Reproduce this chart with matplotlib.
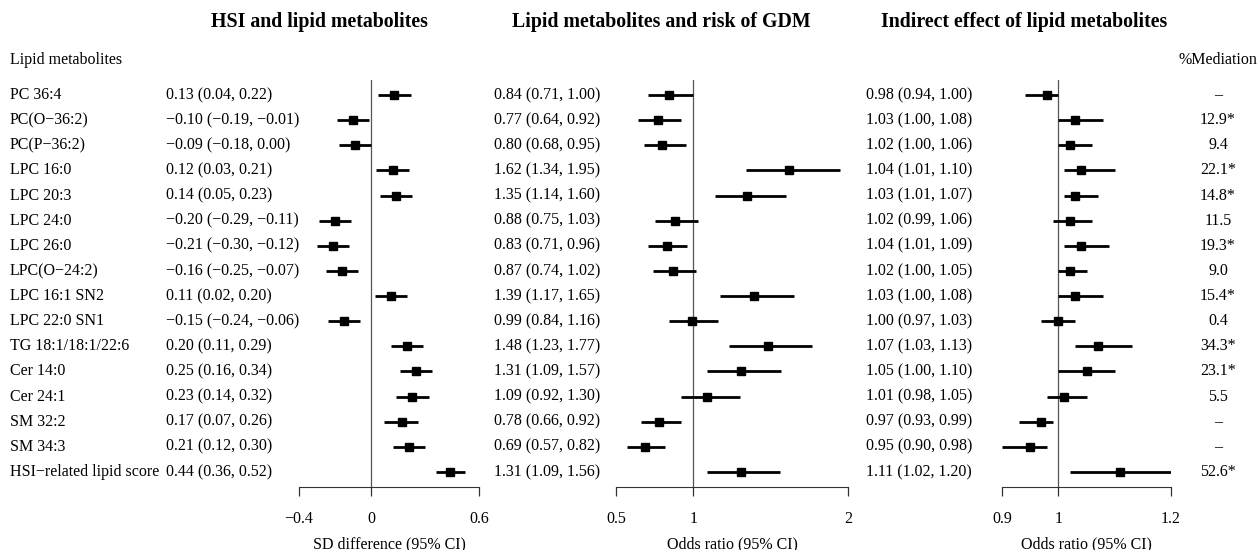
import matplotlib
matplotlib.use('Agg')
import matplotlib.pyplot as plt
import matplotlib.transforms as mtransforms

plt.rcParams['font.family'] = ['Liberation Serif', 'DejaVu Serif']

# Данные
labels = ['PC 36:4', 'PC(O−36:2)', 'PC(P−36:2)', 'LPC 16:0', 'LPC 20:3', 'LPC 24:0',
          'LPC 26:0', 'LPC(O−24:2)', 'LPC 16:1 SN2', 'LPC 22:0 SN1', 'TG 18:1/18:1/22:6',
          'Cer 14:0', 'Cer 24:1', 'SM 32:2', 'SM 34:3', 'HSI−related lipid score']

sd_est = [0.13, -0.10, -0.09, 0.12, 0.14, -0.20, -0.21, -0.16, 0.11, -0.15, 0.20, 0.25, 0.23, 0.17, 0.21, 0.44]
sd_lo = [0.04, -0.19, -0.18, 0.03, 0.05, -0.29, -0.30, -0.25, 0.02, -0.24, 0.11, 0.16, 0.14, 0.07, 0.12, 0.36]
sd_hi = [0.22, -0.01, 0.00, 0.21, 0.23, -0.11, -0.12, -0.07, 0.20, -0.06, 0.29, 0.34, 0.32, 0.26, 0.30, 0.52]

or_est = [0.84, 0.77, 0.80, 1.62, 1.35, 0.88, 0.83, 0.87, 1.39, 0.99, 1.48, 1.31, 1.09, 0.78, 0.69, 1.31]
or_lo = [0.71, 0.64, 0.68, 1.34, 1.14, 0.75, 0.71, 0.74, 1.17, 0.84, 1.23, 1.09, 0.92, 0.66, 0.57, 1.09]
or_hi = [1.00, 0.92, 0.95, 1.95, 1.60, 1.03, 0.96, 1.02, 1.65, 1.16, 1.77, 1.57, 1.30, 0.92, 0.82, 1.56]

ie_est = [0.98, 1.03, 1.02, 1.04, 1.03, 1.02, 1.04, 1.02, 1.03, 1.00, 1.07, 1.05, 1.01, 0.97, 0.95, 1.11]
ie_lo = [0.94, 1.00, 1.00, 1.01, 1.01, 0.99, 1.01, 1.00, 1.00, 0.97, 1.03, 1.00, 0.98, 0.93, 0.90, 1.02]
ie_hi = [1.00, 1.08, 1.06, 1.10, 1.07, 1.06, 1.09, 1.05, 1.08, 1.03, 1.13, 1.10, 1.05, 0.99, 0.98, 1.20]

mediation = ['–', '12.9*', '9.4', '22.1*', '14.8*', '11.5', '19.3*', '9.0', '15.4*', '0.4',
             '34.3*', '23.1*', '5.5', '–', '–', '52.6*']

W, H = 1257, 550
fig = plt.figure(figsize=(W / 100, H / 100), dpi=100)


def fmt(v):
    s = f'{v:.2f}'
    return s.replace('-', '−')


def make_axes(x0, x1):
    # позиция осей в пикселях
    top, bottom = 80, 487
    return fig.add_axes([x0 / W, 1 - bottom / H, (x1 - x0) / W, (bottom - top) / H])


panels = [
    (299, 479, (-0.4, 0.6), [-0.4, 0, 0.6], ['−0.4', '0', '0.6'], 0, sd_est, sd_lo, sd_hi,
     'SD difference (95% CI)', 166),
    (616, 848, (0.5, 2), [0.5, 1, 2], ['0.5', '1', '2'], 1, or_est, or_lo, or_hi,
     'Odds ratio (95% CI)', 494),
    (1002, 1171, (0.9, 1.2), [0.9, 1, 1.2], ['0.9', '1', '1.2'], 1, ie_est, ie_lo, ie_hi,
     'Odds ratio (95% CI)', 866),
]

rows = list(range(len(labels)))
axes = []
for x0, x1, xlim, ticks, ticklabels, ref, est, lo, hi, xlabel, tx in panels:
    ax = make_axes(x0, x1)
    ax.set_xlim(*xlim)
    ax.set_ylim(len(labels) - 0.4, -0.6)
    ax.axvline(ref, color='#555555', linewidth=0.9, zorder=1)
    ax.hlines(rows, lo, hi, color='black', linewidth=2.0, zorder=2)
    ax.plot(est, rows, 's', color='black', markersize=6, zorder=3)
    for side in ['top', 'right', 'left']:
        ax.spines[side].set_visible(False)
    ax.spines['bottom'].set_color('#333333')
    ax.set_yticks([])
    ax.set_xticks(ticks)
    ax.set_xticklabels(ticklabels, fontsize=11.5)
    ax.tick_params(axis='x', direction='out', length=6.5, width=0.9, pad=10.5, color='#333333')
    ax.set_xlabel(xlabel, fontsize=11.5, labelpad=7)
    ax.patch.set_visible(False)
    axes.append(ax)

    # текстовые колонки
    trans = mtransforms.blended_transform_factory(fig.transFigure, ax.transData)
    for i in rows:
        ax.text(tx / W, i, f'{fmt(est[i])} ({fmt(lo[i])}, {fmt(hi[i])})', transform=trans,
                ha='left', va='center', fontsize=11.5, clip_on=False)

ax = axes[0]
trans = mtransforms.blended_transform_factory(fig.transFigure, ax.transData)
for i in rows:
    ax.text(10 / W, i, labels[i], transform=trans, ha='left', va='center', fontsize=11.5)
    ax.text(1218 / W, i, mediation[i], transform=trans, ha='center', va='center', fontsize=11.5)

fig.text(10 / W, 1 - 60 / H, 'Lipid metabolites', ha='left', va='center', fontsize=11.5)
fig.text(1218 / W, 1 - 60 / H, '%Mediation', ha='center', va='center', fontsize=11.5)

fig.text(319 / W, 1 - 22 / H, 'HSI and lipid metabolites', ha='center', va='center',
         fontsize=14.3, fontweight='bold')
fig.text(661 / W, 1 - 22 / H, 'Lipid metabolites and risk of GDM', ha='center', va='center',
         fontsize=14.3, fontweight='bold')
fig.text(1024 / W, 1 - 22 / H, 'Indirect effect of lipid metabolites', ha='center', va='center',
         fontsize=14.3, fontweight='bold')

fig.savefig('out.png', dpi=100)
